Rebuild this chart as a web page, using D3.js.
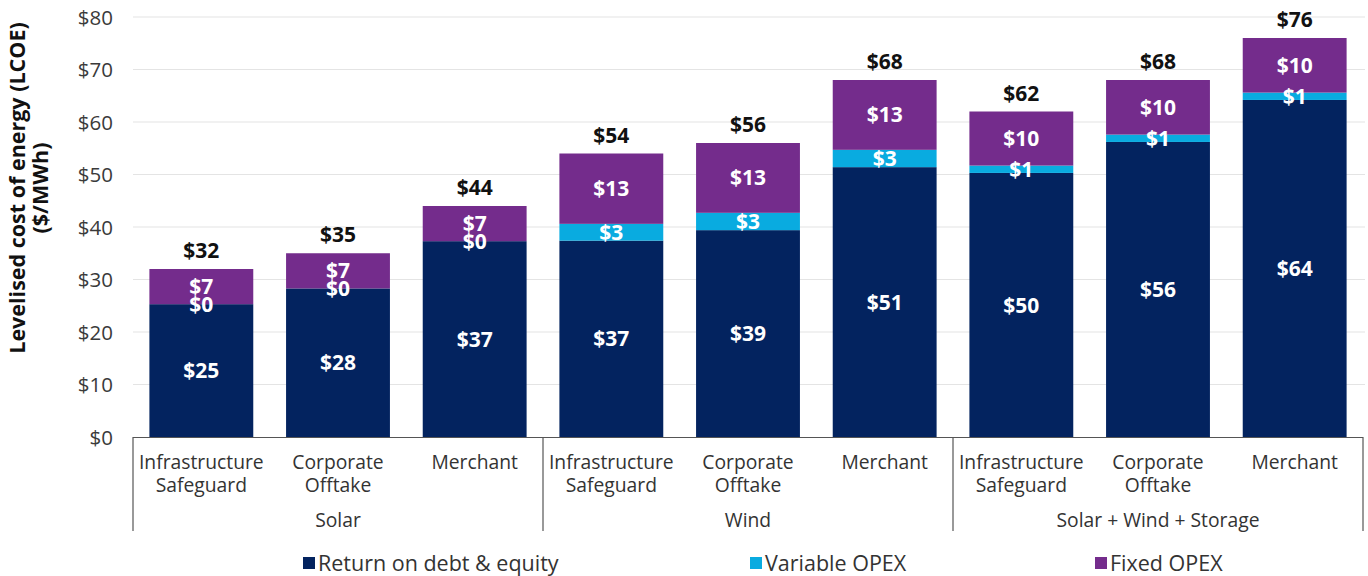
<!DOCTYPE html>
<html><head><meta charset="utf-8">
<script src="https://cdn.jsdelivr.net/npm/d3@7"></script>
<style>
body{margin:0;background:#fff;}
svg{font-family:"Open Sans",sans-serif;}
</style></head>
<body><svg id="c" width="1368" height="576"></svg>
<script>
const groups = ["Solar", "Wind", "Solar + Wind + Storage"];
const scenarios = [["Infrastructure","Safeguard"],["Corporate","Offtake"],["Merchant"]];
const returnVals = [25.3, 28.3, 37.3, 37.4, 39.4, 51.4, 50.3, 56.2, 64.2];
const variableVals = [0, 0, 0, 3.2, 3.3, 3.3, 1.4, 1.4, 1.4];
const fixedVals = [6.7, 6.7, 6.7, 13.4, 13.3, 13.3, 10.3, 10.4, 10.4];
const seriesNames = ["Return on debt & equity", "Variable OPEX", "Fixed OPEX"];
const seriesColors = ["#03235f", "#09abe0", "#742c8c"];
const yTicks = [0,10,20,30,40,50,60,70,80];

const svg = d3.select("#c");
const pLeft = 133, pRight = 1363, pTop = 17, pBottom = 437;
const cats = [];
groups.forEach((g,gi)=>scenarios.forEach((s,si)=>cats.push({g, gi, s, key: gi*3+si})));
const data = cats.map((c,i)=>({key:c.key, ret:returnVals[i], vari:variableVals[i], fix:fixedVals[i]}));

const x = d3.scaleBand().domain(cats.map(c=>c.key)).range([pLeft,pRight]).paddingInner(0.24).paddingOuter(0.12);
const y = d3.scaleLinear().domain([0,80]).range([pBottom,pTop]);

// gridlines
svg.append("g").selectAll("line").data(yTicks.slice(1)).join("line")
  .attr("x1", pLeft).attr("x2", pRight+2).attr("y1", d=>y(d)).attr("y2", d=>y(d))
  .attr("stroke", "#e4e4e4").attr("stroke-width", 1.2);

// y axis tick labels
const yAxis = d3.axisLeft(y).tickValues(yTicks).tickFormat(d=>"$"+d).tickSize(0).tickPadding(0);
const ya = svg.append("g").attr("transform", `translate(113,0)`).call(yAxis);
ya.select(".domain").remove();
ya.selectAll("text").attr("font-size", 20.5).attr("fill", "#3a3a3a").attr("font-family","'Open Sans',sans-serif").attr("dy","0.36em");

// y title
const yt = svg.append("text").attr("transform", `translate(0,188) rotate(-90)`)
  .attr("text-anchor","middle").attr("font-weight","bold").attr("font-size",21.5).attr("fill","#111");
yt.append("tspan").attr("x",0).attr("y",25).text("Levelised cost of energy (LCOE)");
yt.append("tspan").attr("x",0).attr("y",48).text("($/MWh)");

// stacked bars
const stack = d3.stack().keys(["ret","vari","fix"]);
const stacked = stack(data);
const layers = svg.append("g").selectAll("g").data(stacked).join("g").attr("fill", (d,i)=>seriesColors[i]);
layers.selectAll("rect").data(d=>d).join("rect")
  .attr("x", d=>x(d.data.key)).attr("width", x.bandwidth())
  .attr("y", d=>y(d[1])).attr("height", d=>y(d[0])-y(d[1]));

// segment labels
const lab = svg.append("g");
stacked.forEach(layer=>{
  lab.selectAll(null).data(layer).join("text")
    .attr("x", d=>x(d.data.key)+x.bandwidth()/2)
    .attr("y", d=>y((d[0]+d[1])/2))
    .attr("dy","0.36em").attr("text-anchor","middle")
    .attr("font-weight","bold").attr("font-size",21).attr("fill","#fff")
    .text(d=>"$"+Math.round(d[1]-d[0]));
});
// totals
svg.append("g").selectAll("text").data(data).join("text")
  .attr("x", d=>x(d.key)+x.bandwidth()/2)
  .attr("y", d=>y(d.ret+d.vari+d.fix)-11)
  .attr("text-anchor","middle").attr("font-weight","bold").attr("font-size",21).attr("fill","#111")
  .text(d=>"$"+Math.round(d.ret+d.vari+d.fix));

// x axis line
svg.append("line").attr("x1",pLeft).attr("x2",pRight).attr("y1",pBottom+0.5).attr("y2",pBottom+0.5)
  .attr("stroke","#555").attr("stroke-width",1.2);
// group separators
const gw = (pRight-pLeft)/groups.length;
svg.append("g").selectAll("line").data(d3.range(groups.length+1)).join("line")
  .attr("x1", i=>pLeft+i*gw).attr("x2", i=>pLeft+i*gw).attr("y1", pBottom).attr("y2", 531)
  .attr("stroke","#555").attr("stroke-width",1.2);

// category labels
const cl = svg.append("g").selectAll("text").data(cats).join("text")
  .attr("x", d=>x(d.key)+x.bandwidth()/2).attr("text-anchor","middle")
  .attr("font-size",19.3).attr("fill","#333");
cl.each(function(d){
  const t = d3.select(this);
  d.s.forEach((line,li)=>t.append("tspan").attr("x", x(d.key)+x.bandwidth()/2).attr("y", 469+li*23).text(line));
});
// group labels
svg.append("g").selectAll("text").data(groups).join("text")
  .attr("x",(d,i)=>pLeft+(i+0.5)*gw).attr("y",527).attr("text-anchor","middle")
  .attr("font-size",19.3).attr("fill","#333").text(d=>d);

// legend
const legX = [303, 750, 1095];
const lg = svg.append("g").selectAll("g").data(seriesNames).join("g")
  .attr("transform",(d,i)=>`translate(${legX[i]},563)`);
lg.append("rect").attr("x",0).attr("y",-6).attr("width",12).attr("height",12).attr("fill",(d,i)=>seriesColors[i]);
lg.append("text").attr("x",15).attr("dy","0.36em").attr("font-size",21.5).attr("fill","#333").text(d=>d);
</script></body></html>
